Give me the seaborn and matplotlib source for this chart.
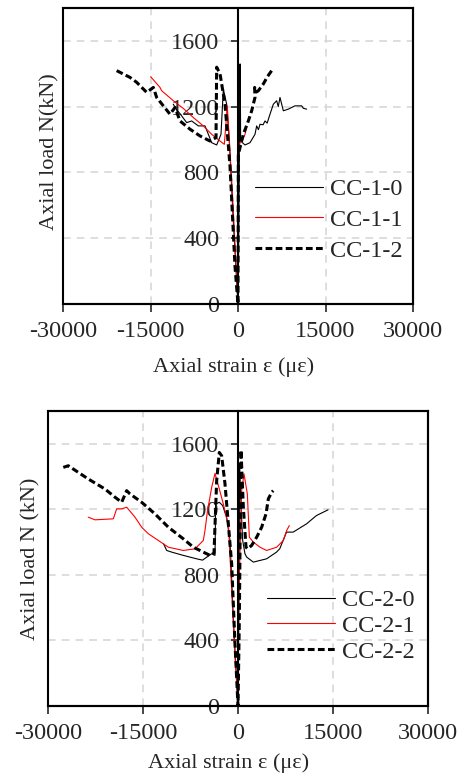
import numpy as np
import pandas as pd
import matplotlib
matplotlib.use("Agg")
import matplotlib.pyplot as plt
from matplotlib.patches import Rectangle
import seaborn as sns

# ---------------- data (top panel) ----------------
cc10_strain = [-11100, -10500, -10000, -9657, -8800, -7943, -6800, -5657, -5085, -4514, -3657, -2914, -2514,
               -1943, -1500, -800, 0, 150, 250, 350, 420, 450, 1200, 2057, 2914, 3200, 3500, 3770, 4300,
               4628, 5000, 5485, 6057, 6628, 6900, 7200, 7770, 8627, 9770, 10920, 11200, 11770]
cc10_load = [1215, 1180, 1160, 1144, 1103, 1113, 1083, 1083, 1032, 981, 967, 1032, 1307,
             1215, 1000, 500, 0, 500, 1000, 1460, 1200, 991, 967, 981, 1032, 1083, 1060, 1093, 1090,
             1113, 1100, 1154, 1215, 1236, 1200, 1256, 1175, 1185, 1205, 1205, 1190, 1185]

cc11_strain = [-14970, -13370, -13085, -11085, -9400, -7657, -5943, -4514, -3085, -2343, -1830, -1500,
               -1000, -500, 0, 57, 340, 800, 1200, 1490]
cc11_load = [1382, 1317, 1297, 1236, 1190, 1134, 1083, 1032, 991, 971, 1205, 1000,
             700, 350, 0, 910, 981, 1000, 1032, 1073]

cc12_strain = [-20800, -18514, -17370, -15657, -14514, -13943, -11657, -10800, -9943, -8228, -6514,
               -4800, -3770, -3657, -3085, -2228, -1370, -514, 0, 57, 914, 1770, 2343, 2914, 2850,
               3200, 3485, 4343, 5000, 5770]
cc12_load = [1419, 1378, 1348, 1287, 1317, 1256, 1154, 1195, 1113, 1063, 1022,
             991, 1012, 1440, 1400, 1215, 839, 228, 0, 910, 1032, 1113, 1175, 1256, 1317,
             1290, 1297, 1338, 1380, 1419]

# ---------------- data (bottom panel) ----------------
cc20_strain = [-11753, -11260, -10470, -8632, -6527, -5600, -4950, -4158, -3632, -3527, -2950, -2422,
               -1800, -1263, -700, 0, 150, 250, 500, 740, 1100, 1364, 2414, 4512, 6086, 6600, 7660,
               8710, 10809, 12383, 14219]
cc20_load = [990, 949, 939, 919, 898, 890, 908, 929, 919, 1233, 1243, 1223,
             1150, 1010, 500, 0, 700, 1480, 1200, 1010, 929, 909, 878, 898, 939, 960, 1061,
             1061, 1111, 1162, 1197]

cc21_strain = [-23637, -22580, -19690, -19160, -18370, -17578, -16263, -15211, -14160, -12580, -11000,
               -8632, -6790, -5480, -5211, -4847, -4158, -3632, -2950, -2320, -1500, -997, -472, 0,
               150, 577, 947, 1474, 1790, 2420, 3474, 4526, 6105, 7158, 7685, 8106]
cc21_load = [1152, 1136, 1142, 1203, 1203, 1213, 1152, 1091, 1051, 1010, 969,
             949, 959, 1010, 1071, 1182, 1334, 1419, 1324, 1233, 1100, 706, 300, 0,
             700, 1314, 1416, 1294, 1030, 1000, 969, 949, 969, 1010, 1071, 1101]

cc22_strain = [-27584, -26795, -23637, -21000, -19422, -18370, -17578, -17053, -15211, -13106, -11000,
               -8632, -7053, -5480, -4421, -3790, -3369, -2950, -2580, -2053, -1527, -1000, -500, 0,
               200, 474, 842, 1263, 1526, 2158, 2947, 3737, 4421, 4790, 5320, 5562]
cc22_load = [1456, 1466, 1385, 1324, 1274, 1243, 1314, 1294, 1243, 1172, 1091,
             1020, 969, 939, 919, 933, 1375, 1547, 1527, 1355, 1111, 868, 400, 0,
             500, 1562, 1213, 969, 959, 980, 1030, 1091, 1172, 1264, 1304, 1314]

labels_top = ["CC-1-0", "CC-1-1", "CC-1-2"]
labels_bot = ["CC-2-0", "CC-2-1", "CC-2-2"]
x_ticks = [-30000, -15000, 0, 15000, 30000]
y_ticks = [0, 400, 800, 1200, 1600]

# ---------------- style ----------------
sns.set_style("white")
plt.rcParams['font.family'] = ['Liberation Serif', 'DejaVu Serif']
FS = 17.5      # ticks and legend
FS_LAB = 16    # axis labels

fig = plt.figure(figsize=(4.57, 7.74), dpi=100)
ax1 = fig.add_axes([63/457, (774-304)/774, 350/457, 296/774])
ax2 = fig.add_axes([48/457, (774-706)/774, 380/457, 295/774])

series_style = [
    dict(color="black", lw=0.8, ls="-"),
    dict(color="red", lw=0.8, ls="-"),
    dict(color="black", lw=2.2, ls=(0, (2.2, 1.1))),
]


def draw(ax, data, labels, ylabel, ylab_xy, xlab_xy, leg_anchor, lspace):
    for (xs, ys), lab, st in zip(data, labels, series_style):
        df = pd.DataFrame({"strain": xs, "load": ys})
        sns.lineplot(data=df, x="strain", y="load", ax=ax, sort=False, estimator=None,
                     color=st["color"], lw=st["lw"], label=lab)
        ax.lines[-1].set_linestyle(st["ls"])
    ax.set_xlim(-30000, 30000)
    ax.set_ylim(0, 1800)
    ax.set_xticks(x_ticks)
    ax.set_yticks(y_ticks)
    ax.set_xticklabels([str(v) for v in x_ticks])
    ax.grid(True, ls=(0, (5, 4)), color="#d4d4d4", lw=1.1)
    ax.set_axisbelow(True)
    for s in ax.spines.values():
        s.set_visible(True)
        s.set_color("black")
        s.set_linewidth(1.5)
    ax.spines['left'].set_position(('data', 0))
    ax.add_patch(Rectangle((0, 0), 1, 1, transform=ax.transAxes, fill=False,
                           lw=1.5, ec="black", zorder=5, clip_on=False))
    ax.tick_params(axis="x", direction="out", length=6, width=1.2, pad=6, labelsize=FS,
                   bottom=True, top=False)
    ax.tick_params(axis="y", direction="out", length=5, width=1.2, pad=8.5, labelsize=FS,
                   left=True, right=False)
    ax.set_xlabel("Axial strain ε (με)", fontsize=FS_LAB)
    ax.set_ylabel(ylabel, fontsize=FS_LAB)
    ax.yaxis.set_label_coords(*ylab_xy)
    ax.xaxis.set_label_coords(*xlab_xy)
    ax.xaxis.label.set_va("baseline")
    leg = ax.legend(loc="upper left", bbox_to_anchor=leg_anchor, frameon=False, fontsize=FS,
                    handlelength=2.8, handletextpad=0.3, labelspacing=lspace, borderpad=0,
                    borderaxespad=0)
    for h, st in zip(leg.get_lines(), series_style):
        h.set_linestyle(st["ls"])
        h.set_linewidth(st["lw"])


draw(ax1, [(cc10_strain, cc10_load), (cc11_strain, cc11_load), (cc12_strain, cc12_load)],
     labels_top, "Axial load N(kN)", (-0.011, 0.515), (0.486, -0.230), (0.549, 0.425), 0.36)
draw(ax2, [(cc20_strain, cc20_load), (cc21_strain, cc21_load), (cc22_strain, cc22_load)],
     labels_bot, "Axial load N (kN)", (-0.02, 0.5), (0.474, -0.210), (0.576, 0.396), 0.15)

fig.savefig("out.png", dpi=100)
